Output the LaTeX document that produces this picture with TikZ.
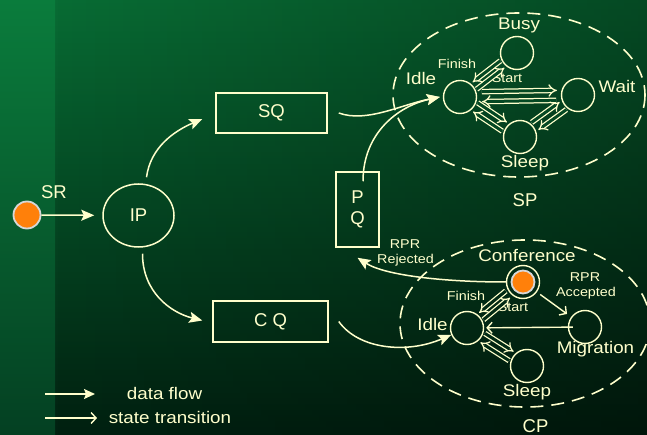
\documentclass[tikz,border=0pt]{standalone}
\usepackage{fontspec}
\setmainfont{Liberation Sans}
\newfontfamily\widesans{Liberation Sans}[FakeStretch=1.12]
\usetikzlibrary{arrows.meta,calc,shapes.geometric,fadings}

\definecolor{cream}{RGB}{255,255,204}
\definecolor{stripTop}{RGB}{10,124,60}
\definecolor{stripBot}{RGB}{4,64,34}
\definecolor{bgTop}{RGB}{8,108,52}
\definecolor{bgMid}{RGB}{3,78,38}
\definecolor{bgBot}{RGB}{1,32,16}
\definecolor{gapSP}{RGB}{4,72,35}
\definecolor{gapCP}{RGB}{1,42,20}
\definecolor{dotOrange}{RGB}{255,128,10}
\definecolor{dotRim}{RGB}{215,215,215}

% one-way state transition drawn beside the centre line of two states
% #1 extra style, #2 from, #3 to, #4 side offset, #5 shorten at start, #6 shorten at end
\newcommand\sidearrow[6][]{%
  \draw[state,#1,shorten <=#5,shorten >=#6]
    ($(#2)!#4!90:(#3)$) -- ($(#3)!#4!-90:(#2)$);}

\begin{document}
\begin{tikzpicture}[x=1pt,y=-1pt,
  flow/.style={draw=cream, line width=1.5pt, -{Stealth[length=13pt,width=11pt,inset=2.5pt]}},
  state/.style={draw=cream, line width=1.25pt, double distance=3pt, -{Implies[scale=1.25]}},
  trans/.style={draw=cream, line width=1.4pt, -{Straight Barb[length=5pt,width=11pt]}},
  zone/.style={draw=cream, line width=1.6pt, dash pattern=on 13pt off 8pt},
  stnode/.style={circle, draw=cream, line width=1.4pt, minimum size=33pt, inner sep=0pt},
  box/.style={draw=cream, line width=1.5pt, text=cream, inner sep=0pt, align=center,
              font=\fontsize{18.5}{21}\selectfont},
  lbl/.style={text=cream, inner sep=0pt, anchor=base, font=\widesans\fontsize{16.8}{18}\selectfont},
  sml/.style={lbl, font=\widesans\fontsize{12.8}{14}\selectfont},
  big/.style={lbl, font=\fontsize{18.5}{20}\selectfont},
]
\useasboundingbox (0,0) rectangle (647,435);

% background
\shade[top color=bgTop, middle color=bgMid, bottom color=bgBot] (55,0) rectangle (647,435);
\fill[black, opacity=0.32, path fading=west] (55,0) rectangle (647,435);
\shade[top color=stripTop, bottom color=stripBot] (0,0) rectangle (55,435);

% dashed process groups
\draw[zone] (519,95) ellipse [x radius=126, y radius=82];
\draw[zone] (525,323.5) ellipse [x radius=125, y radius=83.5];

% queues and input process
\node[circle, fill=dotOrange, draw=dotRim, line width=1.8pt, minimum size=27pt, inner sep=0pt] (sr) at (27,215) {};
\node[big] at (54,199) {SR};
\node[ellipse, draw=cream, line width=1.5pt, minimum width=71pt, minimum height=63pt,
      inner sep=0pt, text=cream, font=\fontsize{18.5}{20}\selectfont] (ip) at (138.5,215.5) {IP};
\node[box, minimum width=111pt, minimum height=40pt] (sq) at (271.5,113) {SQ};
\node[box, minimum width=115pt, minimum height=41pt] (cq) at (270.5,321.5) {C Q};
\node[box, minimum width=43pt, minimum height=75pt] (pq) at (357.5,209.5) {P\\Q};

% SP states
\node[stnode] (spidle)  at (460,97) {};
\node[stnode] (spbusy)  at (517,53) {};
\node[stnode] (spwait)  at (578,95) {};
\node[stnode] (spsleep) at (520,137) {};
\node[lbl] at (519,30) {Busy};
\node[lbl] at (421,85) {Idle};
\node[lbl] at (617,93) {Wait};
\node[lbl] at (525,168) {Sleep};
\node[big] at (525,207) {SP};
\node[sml] at (457,69) {Finish};
\node[sml] at (507,83) {Start};

% CP states
\node[stnode] (conf)    at (523,282) {};
\fill[dotOrange, draw=dotRim, line width=1.8pt] (conf) circle [radius=11.5pt];
\node[stnode] (cpidle)  at (467,328) {};
\node[stnode] (cpmig)   at (585,327) {};
\node[stnode] (cpsleep) at (527,366) {};
\node[lbl] at (527,262) {Conference};
\node[lbl] at (432.5,330) {Idle};
\node[lbl] at (595.5,353) {Migration};
\node[lbl] at (527,396) {Sleep};
\node[big] at (535.5,432) {CP};
\node[sml] at (466,300) {Finish};
\node[sml] at (513,312) {Start};
\node[sml] at (585,282) {RPR};
\node[sml] at (586,296) {Accepted};
\node[sml] at (405,249) {RPR};
\node[sml] at (405.5,264) {Rejected};

% data flow
\draw[flow, shorten >=8pt] (sr) -- (ip);
\draw[flow] ([xshift=8pt,yshift=6pt]ip.north) .. controls +(4,-30) and +(-28,12) .. ([xshift=-13pt,yshift=-6pt]sq.west);
\draw[flow] ([xshift=4pt,yshift=-6pt]ip.south) .. controls +(0,38) and +(-32,-8) .. ([xshift=-10pt,yshift=1pt]cq.west);
\draw[flow] ([xshift=11pt]sq.east) .. controls +(28,10) and +(-40,8) .. ([xshift=-3pt]spidle.west);
\draw[flow] ([xshift=5.5pt,yshift=-10pt]pq.north) .. controls +(0,-48) and +(-42,9) .. ([xshift=-3pt]spidle.west);
\draw[flow] ([xshift=10pt]cq.east) .. controls +(20,28) and +(-38,16) .. ([xshift=-22pt,yshift=-10pt]cpidle);
\draw[flow] (conf.west) .. controls +(-60,0) and +(28,18) .. ([yshift=-10pt]pq.south);

% SP state transitions
\sidearrow[double=gapSP]{spidle}{spbusy}{-4pt}{18pt}{19pt}
\sidearrow[double=gapSP]{spbusy}{spidle}{-4pt}{18pt}{19pt}
\sidearrow[double=gapSP]{spidle}{spwait}{5pt}{22pt}{21pt}
\sidearrow[double=gapSP]{spwait}{spidle}{5pt}{22pt}{22pt}
\sidearrow[double=gapSP]{spidle}{spsleep}{5pt}{18pt}{19pt}
\sidearrow[double=gapSP]{spsleep}{spidle}{5pt}{18pt}{19pt}
\sidearrow[double=gapSP]{spsleep}{spwait}{5pt}{18pt}{19pt}
\sidearrow[double=gapSP]{spwait}{spsleep}{5pt}{18pt}{19pt}

% CP state transitions
\sidearrow[double=gapCP]{conf}{cpidle}{-4pt}{19pt}{19pt}
\sidearrow[double=gapCP]{cpidle}{conf}{-4pt}{18pt}{20pt}
\sidearrow[double=gapCP]{cpidle}{cpsleep}{5pt}{18pt}{19pt}
\sidearrow[double=gapCP]{cpsleep}{cpidle}{5pt}{18pt}{19pt}
\draw[trans, shorten <=4pt, shorten >=5pt] (conf) -- (cpmig);
\draw[trans, shorten <=-5pt, shorten >=2pt] (cpmig) -- (cpidle);

% legend
\coordinate (lga) at (45,394);
\coordinate (lgb) at (95,394);
\coordinate (lgc) at (45,418);
\coordinate (lgd) at (97,418);
\draw[flow, -{Stealth[length=11pt,width=10pt,inset=2pt]}] (lga) -- (lgb);
\draw[trans] (lgc) -- (lgd);
\node[lbl] at (164.5,399.5) {data flow};
\node[lbl] at (170,423.5) {state transition};
\end{tikzpicture}
\end{document}
